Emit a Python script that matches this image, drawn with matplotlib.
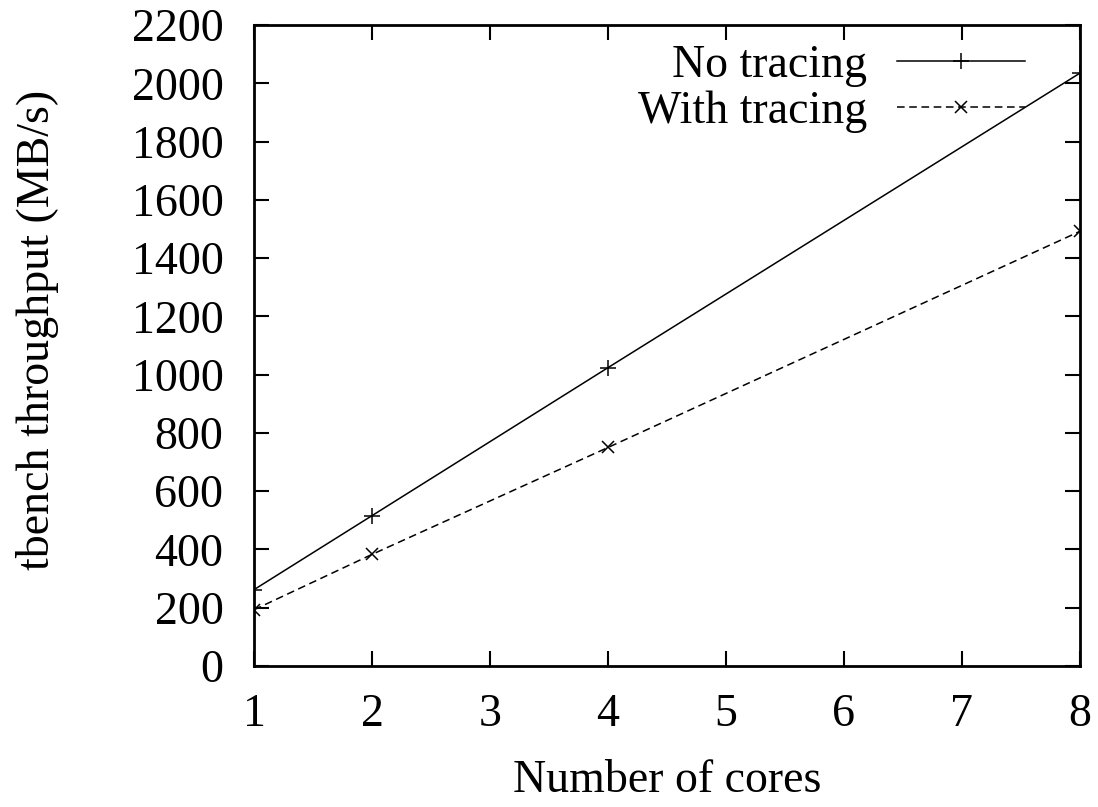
import matplotlib
matplotlib.use("Agg")
import matplotlib.pyplot as plt

# tbench throughput vs number of cores
cores = [1, 2, 4, 8]
no_tracing = [262, 516, 1024, 2035]
with_tracing = [193, 383, 750, 1492]

plt.rcParams['font.family'] = ['Liberation Serif', 'DejaVu Serif']
plt.rcParams['font.size'] = 33

fig = plt.figure(figsize=(10.98, 8.07), dpi=100)
ax = fig.add_axes([0.2313, 0.1747, 0.7523, 0.7943])

ax.plot(cores, no_tracing, color='black', lw=1.1, marker='+', ms=11, mew=1.1,
        label='No tracing')
ax.plot(cores, with_tracing, color='black', lw=1.1, ls=(0, (5, 3)), marker='x',
        ms=9, mew=1.1, label='With tracing')

ax.set_xlim(1, 8)
ax.set_ylim(0, 2200)
ax.set_xticks(range(1, 9))
ax.set_yticks(range(0, 2201, 200))
ax.tick_params(direction='in', length=11, width=1.5, top=True, right=True)
ax.tick_params(axis='y', pad=22)
ax.tick_params(axis='x', pad=20)
for s in ax.spines.values():
    s.set_linewidth(2)

ax.set_xlabel('Number of cores', labelpad=17)
ax.set_ylabel('tbench throughput (MB/s)', labelpad=52)
ax.yaxis.label.set_y(0.525)

ax.legend(loc='upper right', bbox_to_anchor=(0.934, 0.97), frameon=False,
          markerfirst=False, handlelength=2.8, handletextpad=0.65,
          labelspacing=0.08, borderpad=0, borderaxespad=0, numpoints=1)

fig.savefig('out.png', dpi=100)
